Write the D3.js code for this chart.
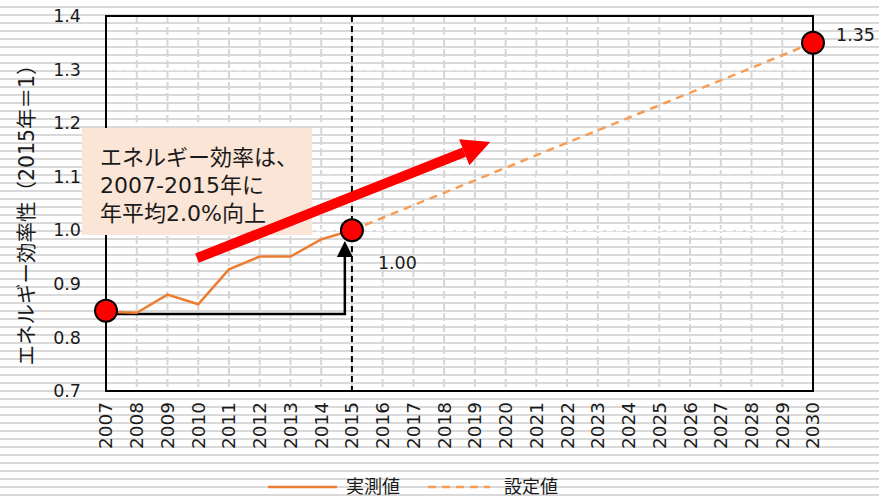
<!DOCTYPE html>
<html>
<head>
<meta charset="utf-8">
<script src="https://cdn.jsdelivr.net/npm/d3@7.9.0/dist/d3.min.js"></script>
<style>
  body { margin: 0; background: #fff; }
  svg { display: block; font-family: "DejaVu Sans", "Noto Sans CJK JP", sans-serif; }
</style>
</head>
<body>
<svg id="chart" width="879" height="497"></svg>
<script>
// data
const years = d3.range(2007, 2031);
const yTicks = [0.7, 0.8, 0.9, 1.0, 1.1, 1.2, 1.3, 1.4];
const actualYears = [2007, 2008, 2009, 2010, 2011, 2012, 2013, 2014, 2015];
const actualValues = [0.848, 0.846, 0.880, 0.862, 0.927, 0.951, 0.951, 0.983, 1.00];
const targetYears = [2015, 2030];
const targetValues = [1.00, 1.35];
const markerYears = [2007, 2015, 2030];
const markerValues = [0.85, 1.00, 1.35];
const markerLabels = ["", "1.00", "1.35"];
const boxLines = ["エネルギー効率は、", "2007-2015年に", "年平均2.0%向上"];
const legendNames = ["実測値", "設定値"];

const W = 879, H = 497;
const svg = d3.select('#chart');
const pLeft = 106, pRight = 813, pTop = 16, pBottom = 391;

const x = d3.scaleLinear().domain([2007, 2030]).range([pLeft, pRight]);
const y = d3.scaleLinear().domain([0.7, 1.4]).range([pBottom, pTop]);

// notebook stripes behind everything
svg.append('g').selectAll('rect')
  .data(d3.range(6, H, 8))
  .join('rect')
  .attr('x', 0).attr('y', d => d).attr('width', W).attr('height', 2)
  .attr('fill', '#d9d9d9');

// grid
svg.append('g').selectAll('line')
  .data(years.slice(1, -1))
  .join('line')
  .attr('x1', d => x(d)).attr('x2', d => x(d))
  .attr('y1', pTop).attr('y2', pBottom)
  .attr('stroke', '#d6d6d6').attr('stroke-width', 2)
  .attr('stroke-dasharray', '8,3');

svg.append('g').selectAll('line')
  .data(yTicks.slice(1, -1))
  .join('line')
  .attr('x1', pLeft).attr('x2', pRight)
  .attr('y1', d => y(d)).attr('y2', d => y(d))
  .attr('stroke', '#fff').attr('stroke-width', 2)
  .attr('stroke-dasharray', '7,3');

// 2015 marker line
svg.append('line')
  .attr('x1', x(2015)).attr('x2', x(2015))
  .attr('y1', pTop).attr('y2', pBottom)
  .attr('stroke', '#000').attr('stroke-width', 2)
  .attr('stroke-dasharray', '6,4');

// plot frame
svg.append('rect')
  .attr('x', pLeft).attr('y', pTop)
  .attr('width', pRight - pLeft).attr('height', pBottom - pTop)
  .attr('fill', 'none').attr('stroke', '#000').attr('stroke-width', 2);

// y tick labels
svg.append('g').selectAll('text')
  .data(yTicks)
  .join('text')
  .attr('x', 81).attr('y', d => y(d)).attr('dy', '0.35em')
  .attr('text-anchor', 'end').attr('font-size', 17.5).attr('fill', '#1a1a1a')
  .text(d => d.toFixed(1));

// x tick labels
svg.append('g').selectAll('text')
  .data(years)
  .join('text')
  .attr('transform', d => `translate(${x(d)},402) rotate(-90)`)
  .attr('dy', '0.35em')
  .attr('text-anchor', 'end').attr('font-size', 18.5).attr('fill', '#1a1a1a')
  .text(d => d);

// y title
svg.append('text')
  .attr('transform', `translate(27,210) rotate(-90)`)
  .attr('dy', '0.35em')
  .attr('text-anchor', 'middle').attr('font-size', 20.5).attr('fill', '#1a1a1a')
  .text('エネルギー効率性（2015年＝1）');

const line = d3.line().x(d => x(d[0])).y(d => y(d[1]));

// black step arrow
svg.append('path')
  .attr('d', line([[2007, 0.8437], [2014.77, 0.8437], [2014.77, 0.95]]))
  .attr('fill', 'none').attr('stroke', '#000').attr('stroke-width', 2.5);
svg.append('path')
  .attr('d', `M${x(2014.77) - 8},${y(0.95)} L${x(2014.77)},${y(0.98)} L${x(2014.77) + 8},${y(0.95)} Z`)
  .attr('fill', '#000');

// callout box
const box = svg.append('g');
box.append('rect')
  .attr('x', 82).attr('y', 128).attr('width', 230).attr('height', 107)
  .attr('fill', '#fbe5d6');
box.selectAll('text')
  .data(boxLines)
  .join('text')
  .attr('x', 100).attr('y', (d, i) => 165 + i * 28)
  .attr('font-size', 22).attr('fill', '#1a1a1a')
  .text(d => d);

// red trend arrow
const a0 = [x(2009.96), y(0.948)], a1 = [x(2019.5), y(1.165)];
const ang = Math.atan2(a1[1] - a0[1], a1[0] - a0[0]);
const headLen = 28, headW = 14;
const hb = [a1[0] - headLen * Math.cos(ang), a1[1] - headLen * Math.sin(ang)];
svg.append('line')
  .attr('x1', a0[0]).attr('y1', a0[1]).attr('x2', hb[0]).attr('y2', hb[1])
  .attr('stroke', '#ff0000').attr('stroke-width', 10);
svg.append('path')
  .attr('d', `M${a1[0]},${a1[1]} L${hb[0] + headW * Math.sin(ang)},${hb[1] - headW * Math.cos(ang)} L${hb[0] - headW * Math.sin(ang)},${hb[1] + headW * Math.cos(ang)} Z`)
  .attr('fill', '#ff0000');

// series
svg.append('path')
  .attr('d', line(targetYears.map((d, i) => [d, targetValues[i]])))
  .attr('fill', 'none').attr('stroke', '#f79d55').attr('stroke-width', 2.5)
  .attr('stroke-dasharray', '8,6');
svg.append('path')
  .attr('d', line(actualYears.map((d, i) => [d, actualValues[i]])))
  .attr('fill', 'none').attr('stroke', '#ed7d31').attr('stroke-width', 2.5);

// markers
svg.append('g').selectAll('circle')
  .data(markerYears)
  .join('circle')
  .attr('cx', d => x(d)).attr('cy', (d, i) => y(markerValues[i]))
  .attr('r', 11)
  .attr('fill', '#ff0000').attr('stroke', '#000').attr('stroke-width', 2);

const lblOff = [[0, 0], [26, 33], [23, -8]];
svg.append('g').selectAll('text')
  .data(markerYears)
  .join('text')
  .attr('x', (d, i) => x(d) + lblOff[i][0])
  .attr('y', (d, i) => y(markerValues[i]) + lblOff[i][1])
  .attr('dy', '0.35em')
  .attr('font-size', 17.5).attr('fill', '#1a1a1a')
  .text((d, i) => markerLabels[i]);

// legend
const lg = svg.append('g');
lg.append('line').attr('x1', 268).attr('x2', 337).attr('y1', 487).attr('y2', 487)
  .attr('stroke', '#ed7d31').attr('stroke-width', 2.5);
lg.append('line').attr('x1', 428).attr('x2', 490).attr('y1', 487).attr('y2', 487)
  .attr('stroke', '#f79d55').attr('stroke-width', 2.5).attr('stroke-dasharray', '8,6');
lg.selectAll('text')
  .data(legendNames)
  .join('text')
  .attr('x', (d, i) => [346, 504][i]).attr('y', 487).attr('dy', '0.35em')
  .attr('font-size', 18).attr('fill', '#1a1a1a')
  .text(d => d);
</script>
</body>
</html>
